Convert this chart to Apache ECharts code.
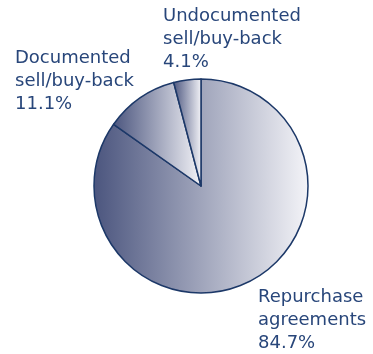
<!DOCTYPE html>
<html><head><meta charset="utf-8">
<script src="https://cdn.jsdelivr.net/npm/echarts@6/dist/echarts.min.js"></script>
<style>html,body{margin:0;padding:0;background:#fff}#c{width:373px;height:354px}</style>
</head><body><div id="c"></div>
<script>
const categories = ['Repurchase\nagreements', 'Documented\nsell/buy-back', 'Undocumented\nsell/buy-back'];
const values = [84.7, 11.1, 4.1];

const labelPos = [
  {x: 258, y: 286},
  {x: 15, y: 47},
  {x: 163, y: 5}
];

const chart = echarts.init(document.getElementById('c'), null, {renderer: 'canvas'});
const grad = new echarts.graphic.LinearGradient(0, 0, 1, 0, [
  {offset: 0, color: '#4b557e'},
  {offset: 1, color: '#f4f4f8'}
]);
chart.setOption({
  animation: false,
  series: [{
    type: 'pie',
    center: [201, 186],
    radius: [0, 107],
    startAngle: 90,
    clockwise: true,
    avoidLabelOverlap: false,
    itemStyle: {color: grad, borderColor: '#1c3868', borderWidth: 1.5},
    label: {
      show: true,
      formatter: p => p.name + '\n' + p.value.toFixed(1) + '%',
      fontFamily: 'DejaVu Sans',
      fontSize: 18,
      lineHeight: 23,
      color: '#28467a'
    },
    labelLine: {show: false},
    labelLayout: function (params) {
      const p = labelPos[params.dataIndex];
      return {x: p.x, y: p.y, align: 'left', verticalAlign: 'top'};
    },
    emphasis: {disabled: true},
    data: categories.map((c, i) => ({name: c, value: values[i]}))
  }]
});
</script></body></html>
